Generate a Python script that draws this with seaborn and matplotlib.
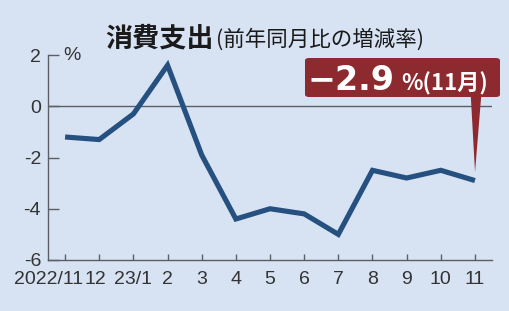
import matplotlib
matplotlib.use("Agg")
import matplotlib.pyplot as plt
import matplotlib.transforms as mtrans
import seaborn as sns
import pandas as pd
from matplotlib.patches import FancyBboxPatch

months = ["2022/11", "12", "23/1", "2", "3", "4", "5", "6", "7", "8", "9", "10", "11"]
values = [-1.2, -1.3, -0.3, 1.6, -1.9, -4.4, -4.0, -4.2, -5.0, -2.5, -2.8, -2.5, -2.9]
yticks = [2, 0, -2, -4, -6]
ytick_labels = ["2", "0", "-2", "-4", "-6"]

BG = "#d7e2f3"
LINE = "#25507f"
RED = "#8c2a2f"
AX = "#5a5f66"

sns.set_style("ticks")
tick_font = "Liberation Sans"
plt.rcParams["font.family"] = ["Noto Sans CJK JP", "DejaVu Sans"]

df = pd.DataFrame({"idx": range(len(months)), "value": values})

fig = plt.figure(figsize=(5.10, 3.11), dpi=100)
fig.patch.set_facecolor(BG)
ax = fig.add_axes([48 / 510, 1 - 260 / 311, 444 / 510, 205 / 311])
ax.set_facecolor(BG)

ax.axhline(0, color=AX, lw=1.0, zorder=1)
sns.lineplot(data=df, x="idx", y="value", ax=ax, color=LINE, lw=3.7,
             solid_joinstyle="miter", solid_capstyle="butt", zorder=3)

ax.set_xlim(-0.5, 12.5)
ax.set_ylim(-6, 2)
ax.set_xticks(range(len(months)))
ax.set_xticklabels(months, fontfamily=tick_font, fontsize=14, color="#333333")
ax.set_yticks(yticks)
ax.set_yticklabels(ytick_labels, fontfamily=tick_font, fontsize=14, color="#333333")
ax.tick_params(axis="y", direction="in", length=8, width=1.0, color=AX, pad=5)
ax.tick_params(axis="x", direction="in", length=4, width=1.0, color=AX, pad=8)
ax.set_xlabel("")
ax.set_ylabel("")
for s in ["top", "right"]:
    ax.spines[s].set_visible(False)
for s in ["left", "bottom"]:
    ax.spines[s].set_color(AX)
    ax.spines[s].set_linewidth(1.0)

# shift labels slightly as in the reference layout
shifts = {0: -17, 1: -4}
for i, lab in enumerate(ax.get_xticklabels()):
    if i in shifts:
        lab.set_transform(lab.get_transform() +
                          mtrans.ScaledTranslation(shifts[i] / 100, 0, fig.dpi_scale_trans))

ax.text(0.054, 1.0, "%", transform=ax.transAxes, fontfamily=tick_font,
        fontsize=14, color="#333333", ha="center", va="center")

# title
fig.text(105 / 510, 1 - 47 / 311, "消費支出", fontsize=19.5, fontweight="bold",
         color="#1a1a1a", ha="left", va="baseline")
fig.text(216 / 510, 1 - 46 / 311, "(前年同月比の増減率)", fontsize=15.5,
         color="#1a1a1a", ha="left", va="baseline")

# callout
box = FancyBboxPatch((305 / 510, 1 - 97 / 311), 195 / 510, 39 / 311,
                     boxstyle="round,pad=0,rounding_size=0.008",
                     transform=fig.transFigure, facecolor=RED, edgecolor="none",
                     zorder=5)
fig.patches.append(box)
ax.annotate("", xy=(len(values) - 1, values[-1]), xycoords="data",
            xytext=(476 / 510, 1 - 96 / 311), textcoords="figure fraction",
            arrowprops=dict(arrowstyle="wedge,tail_width=0.75,shrink_factor=0.5",
                            facecolor=RED, edgecolor="none", shrinkA=0, shrinkB=6),
            zorder=5, annotation_clip=False)
fig.text(308 / 510, 1 - 90 / 311, f"−{abs(values[-1]):.1f}", fontsize=24, fontweight="bold",
         color="white", ha="left", va="baseline", zorder=6,
         fontfamily=["DejaVu Sans"])
fig.text(401 / 510, 1 - 90 / 311, "%(11月)", fontsize=16, fontweight="bold",
         color="white", ha="left", va="baseline", zorder=6)

fig.savefig("out.png", dpi=100, facecolor=BG)
